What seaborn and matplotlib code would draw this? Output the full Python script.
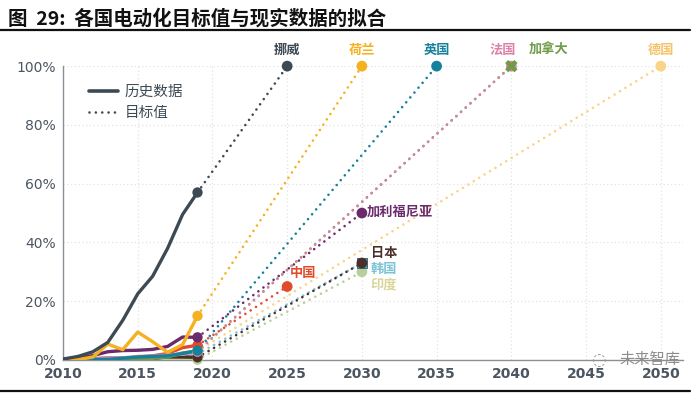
import matplotlib
matplotlib.use("Agg")
import matplotlib.pyplot as plt
import seaborn as sns
import pandas as pd
import numpy as np
from matplotlib.lines import Line2D

# ---------------- data ----------------
years = [2010, 2011, 2012, 2013, 2014, 2015, 2016, 2017, 2018, 2019]
countries = ["挪威", "荷兰", "英国", "法国", "加拿大", "德国", "加利福尼亚", "中国", "日本", "韩国", "印度"]
hist_norway = [0.3, 1.2, 2.8, 6.0, 13.5, 22.5, 28.5, 38.0, 49.5, 57.0]
hist_netherlands = [0.0, 0.1, 1.0, 5.4, 3.5, 9.5, 6.2, 2.6, 5.2, 15.0]
hist_uk = [0.0, 0.1, 0.2, 0.2, 0.6, 1.0, 1.2, 1.4, 2.2, 3.2]
hist_france = [0.0, 0.1, 0.3, 0.8, 0.7, 1.2, 1.4, 1.7, 2.1, 2.8]
hist_canada = [0.0, 0.0, 0.2, 0.3, 0.4, 0.5, 0.7, 1.0, 2.4, 3.0]
hist_germany = [0.0, 0.0, 0.1, 0.2, 0.4, 0.7, 0.7, 1.6, 2.0, 3.0]
hist_california = [0.2, 0.6, 1.5, 2.8, 3.2, 3.3, 3.6, 4.6, 7.8, 7.7]
hist_china = [0.0, 0.0, 0.1, 0.1, 0.3, 0.9, 1.4, 2.2, 4.2, 5.0]
hist_japan = [0.0, 0.1, 0.4, 0.6, 0.6, 0.6, 0.6, 1.0, 1.0, 0.9]
hist_korea = [0.0, 0.0, 0.1, 0.1, 0.1, 0.2, 0.4, 1.0, 2.0, 2.0]
hist_india = [0.0, 0.0, 0.0, 0.0, 0.0, 0.0, 0.0, 0.0, 0.1, 0.1]
target_years = [2025, 2030, 2035, 2040, 2040, 2050, 2030, 2025, 2030, 2030, 2030]
target_values = [100, 100, 100, 100, 100, 100, 50, 25, 33, 33, 30]
x_ticks = [2010, 2015, 2020, 2025, 2030, 2035, 2040, 2045, 2050]
y_ticks = [0, 20, 40, 60, 80, 100]
legend_labels = ["历史数据", "目标值"]
title = "图  29:  各国电动化目标值与现实数据的拟合"

hist_all = [hist_norway, hist_netherlands, hist_uk, hist_france, hist_canada, hist_germany,
            hist_california, hist_china, hist_japan, hist_korea, hist_india]

colors = {"挪威": "#3d4a53", "荷兰": "#f4b120", "英国": "#15819a", "法国": "#dc82aa",
          "加拿大": "#6e9c48", "德国": "#f9d387", "加利福尼亚": "#6a2a6c", "中国": "#e14b2b",
          "日本": "#4b2f2b", "韩国": "#7cc4d5", "印度": "#b7cf98"}
label_colors = dict(colors)
label_colors["印度"] = "#d9d69a"
label_colors["德国"] = "#f5c36a"
target_markers = {c: "o" for c in countries}
target_markers["加拿大"] = "X"
target_markers["韩国"] = "s"

rows = []
for c, h in zip(countries, hist_all):
    for y, v in zip(years, h):
        rows.append({"year": y, "value": v, "country": c})
hist_df = pd.DataFrame(rows)

tgt_rows = []
for c, h, ty, tv in zip(countries, hist_all, target_years, target_values):
    tgt_rows.append({"year": years[-1], "value": h[-1], "country": c})
    tgt_rows.append({"year": ty, "value": tv, "country": c})
tgt_df = pd.DataFrame(tgt_rows)

DOT = (0, (0.01, 2.4))

# ---------------- plot ----------------
sns.set_theme(style="white")
plt.rcParams["font.family"] = ["Noto Sans CJK SC", "DejaVu Sans"]

fig = plt.figure(figsize=(7.0, 3.96), dpi=100)
ax = fig.add_axes([0.09, 0.091, 0.886, 0.742])

# dotted targets (draw reversed so Norway on top)
for c in countries[::-1]:
    d = tgt_df[tgt_df.country == c]
    sns.lineplot(data=d, x="year", y="value", color=colors[c], ax=ax, linewidth=1.9,
                 linestyle=DOT, dash_capstyle="round", legend=False, zorder=2)

for c in countries[::-1]:
    d = hist_df[hist_df.country == c]
    sns.lineplot(data=d, x="year", y="value", color=colors[c], ax=ax, linewidth=2.4,
                 legend=False, zorder=3, solid_capstyle="round", solid_joinstyle="round")

# markers
end_df = hist_df[hist_df.year == years[-1]]
for c in countries[::-1]:
    e = end_df[end_df.country == c]
    sns.scatterplot(data=e, x="year", y="value", color=colors[c], s=55, ax=ax,
                    edgecolor="none", zorder=4, legend=False, clip_on=False)
    t = tgt_df[tgt_df.country == c].iloc[[1]]
    mk = target_markers[c]
    if c == "韩国":
        sns.scatterplot(data=t, x="year", y="value", color="#4aa6bd", marker="s", s=50, ax=ax,
                        edgecolor="#2b5f6e", linewidth=0.6, zorder=5, legend=False, clip_on=False)
    elif c == "加拿大":
        sns.scatterplot(data=t, x="year", y="value", color=colors[c], marker="X", s=80, ax=ax,
                        edgecolor="none", zorder=6, legend=False, clip_on=False)
    else:
        sns.scatterplot(data=t, x="year", y="value", color=colors[c], marker=mk,
                        s=60, ax=ax, edgecolor="none",
                        zorder=5, legend=False, clip_on=False)

# labels
lab_pos = {"挪威": (2025, 105.5, "center"), "荷兰": (2030, 105.5, "center"),
           "英国": (2035, 105.5, "center"), "法国": (2039.4, 105.5, "center"),
           "加拿大": (2042.5, 105.5, "center"), "德国": (2050, 105.5, "center"),
           "加利福尼亚": (2030.35, 50.5, "left"), "中国": (2025.15, 29.5, "left"),
           "日本": (2030.6, 36.3, "left"), "韩国": (2030.6, 31.0, "left"),
           "印度": (2030.6, 25.7, "left")}
for c in countries:
    x, y, ha = lab_pos[c]
    ax.text(x, y, c, color=label_colors[c], fontsize=9.5, fontweight="bold",
            ha=ha, va="center", clip_on=False)

# axes styling
ax.set_xlim(2010, 2051.5)
ax.set_ylim(0, 100)
ax.set_xticks(x_ticks)
ax.set_yticks(y_ticks)
ax.set_xticklabels([str(v) for v in x_ticks], fontsize=10, color="#4b5661", fontweight="bold",
                   family="DejaVu Sans")
ax.set_yticklabels([f"{v}%" for v in y_ticks], fontsize=10, color="#4b5661",
                   family="DejaVu Sans")
ax.set_xlabel("")
ax.set_ylabel("")
ax.tick_params(axis="both", length=0, pad=5)
ax.grid(True, color="#e3e3e3", linestyle=(0, (1, 2)), linewidth=0.9)
for s in ["top", "right"]:
    ax.spines[s].set_visible(False)
for s in ["left", "bottom"]:
    ax.spines[s].set_color("#8a9096")
    ax.spines[s].set_linewidth(1.0)

# legend
handles = [Line2D([], [], color="#3d4a53", linewidth=2.6),
           Line2D([], [], color="#3d4a53", linewidth=1.9, linestyle=DOT,
                  dash_capstyle="round")]
ax.legend(handles, legend_labels, loc="upper left", bbox_to_anchor=(0.02, 0.98), frameon=False,
          fontsize=10.5, handlelength=2.0, labelcolor="#3d4a53", handletextpad=0.5,
          labelspacing=0.45)

# title and frame lines
fig.text(0.012, 0.953, title, fontsize=14, fontweight="bold", color="#111111",
         ha="left", va="center")
fig.add_artist(Line2D([0.0, 0.985], [0.923, 0.923], color="#111111", linewidth=1.6,
                      transform=fig.transFigure))
fig.add_artist(Line2D([0.0, 0.985], [0.012, 0.012], color="#111111", linewidth=1.6,
                      transform=fig.transFigure))
fig.text(0.972, 0.092, "未来智库", fontsize=11, color="#8d8d8d", ha="right", va="center")
fig.text(0.855, 0.092, "◌", fontsize=12, color="#9a9a9a", ha="center", va="center",
         family="DejaVu Sans")

fig.savefig("out.png", dpi=100)
